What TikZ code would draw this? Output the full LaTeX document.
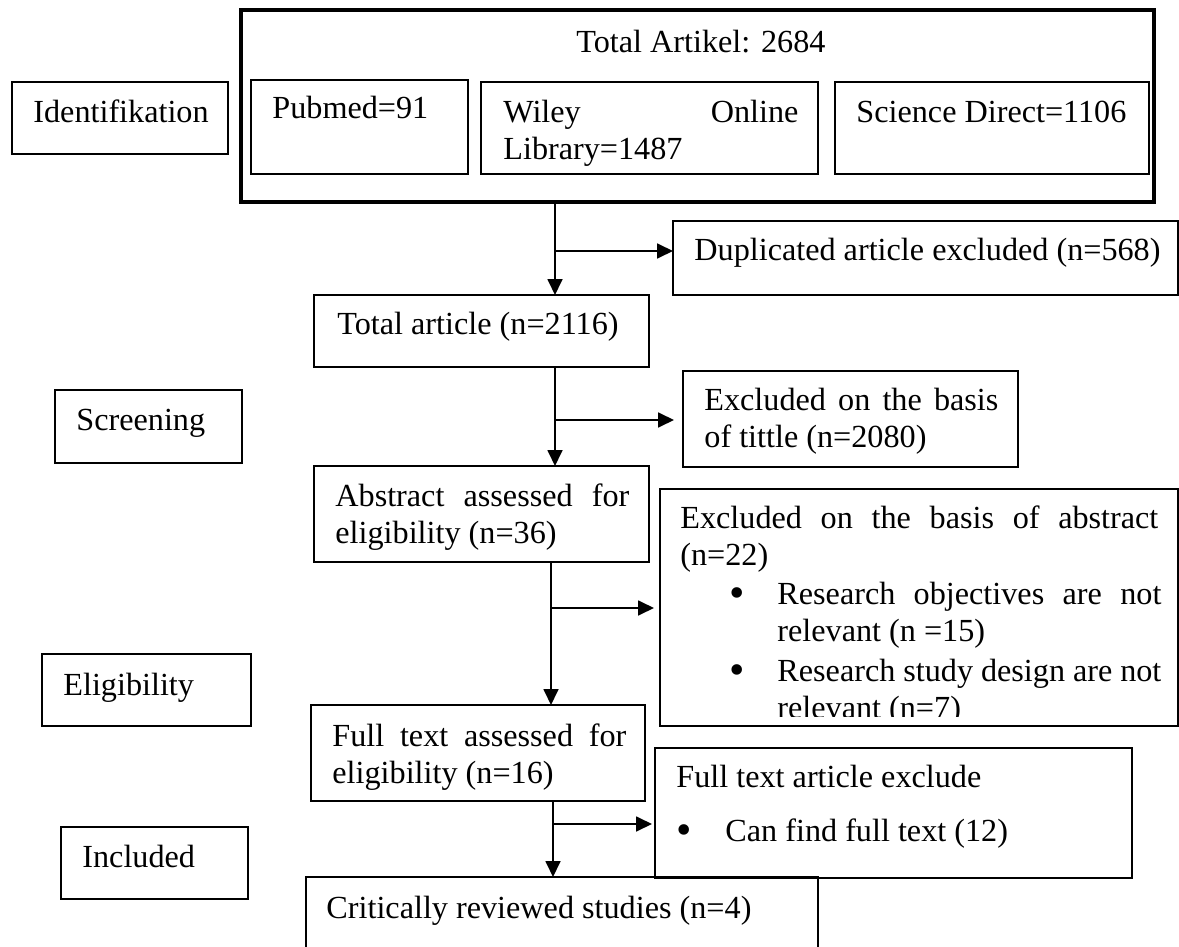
\documentclass[tikz,border=0pt]{standalone}
\usepackage{fontspec}
\setmainfont{Liberation Serif}
\usetikzlibrary{arrows.meta,fit}
\hyphenpenalty=10000
\exhyphenpenalty=10000
\tolerance=10000
\hbadness=10000
\begin{document}
\newcommand\fsz{\fontsize{16.1pt}{18.5pt}\selectfont}
\newcommand\bigbul{\raisebox{-1.6pt}{\fontsize{22pt}{22pt}\selectfont\textbullet}}
\begin{tikzpicture}[x=0.5pt,y=-0.5pt,
 box/.style={draw=black, line width=0.6pt, inner sep=0pt, outer sep=0pt},
 bigbox/.style={draw=black, line width=2pt, inner sep=0pt, outer sep=0pt},
 lbl/.style={anchor=base west, inner sep=0pt, font=\fsz},
 bul/.style={anchor=base, inner sep=0pt, font=\fsz},
 ptext/.style={anchor=north west, inner sep=0pt, font=\fsz, align=justify, text width=#1},
 conn/.style={line width=0.9pt},
 arr/.style={conn, -{Triangle[length=8pt,width=7.5pt]}}
]
\useasboundingbox (0,0) rectangle (1179,947);
\clip (0,0) rectangle (1179,947);

% stage labels
\node[box, fit={(12,82) (228,154)}] (ident) {};
\node[lbl] (identT) at (33,123) {Identifikation};
\node[box, fit={(55,390) (242,463)}] (scr) {};
\node[lbl] (scrT) at (76,430) {Screening};
\node[box, fit={(42,654) (251,726)}] (eli) {};
\node[lbl] (eliT) at (63,695) {Eligibility};
\node[box, fit={(61,827) (248,899)}] (inc) {};
\node[lbl] (incT) at (82,867) {Included};

% identification
\node[bigbox, fit={(241,10) (1154,202)}] (big) {};
\node[lbl] (bigT) at (576,53) {Total Artikel: 2684};
\node[box, fit={(251,80) (468,174)}] (pub) {};
\node[lbl] (pubT) at (272,119) {Pubmed=91};
\node[box, fit={(481,82) (818,174)}] (wil) {};
\node[ptext=147.5pt] (wilT) at (503,96.1) {\strut Wiley Online Library=1487};
\node[box, fit={(835,82) (1149,174)}] (sci) {};
\node[lbl] (sciT) at (856,123) {Science Direct=1106};

\node[box, fit={(673,221) (1178,295)}] (dup) {};
\node[lbl] (dupT) at (694,260) {Duplicated article excluded (n=568)};

% screening
\node[box, fit={(314,295) (649,367)}] (tot) {};
\node[lbl] (totT) at (337,334) {Total article (n=2116)};
\node[box, fit={(683,371) (1018,467)}] (tit) {};
\node[ptext=147pt] (titT) at (704,384.1) {\strut Excluded on the basis of tittle (n=2080)};
\node[box, fit={(314,466) (649,562)}] (abs) {};
\node[ptext=147pt] (absT) at (335,480.1) {\strut Abstract assessed for eligibility (n=36)};

% eligibility
\node[box, fit={(660,489) (1178,726)}] (exa) {};
\node[ptext=239pt] (exaT) at (680,502.1) {\strut Excluded on the basis of abstract (n=22)};
\node[bul] (exaB1) at (737,604) {\bigbul};
\node[ptext=192pt] (exaI1) at (777,578.1) {\strut Research objectives are not relevant (n =15)};
\node[bul] (exaB2) at (737,681) {\bigbul};
\begin{scope}
\clip (660,489) rectangle (1178,716);
\node[ptext=192pt] (exaI2) at (777,655.1) {\strut Research study design are not relevant (n=7)};
\end{scope}

\node[box, fit={(311,705) (645,801)}] (ful) {};
\node[ptext=147pt] (fulT) at (332,720.1) {\strut Full text assessed for eligibility (n=16)};
\node[box, fit={(655,748) (1132,878)}] (fte) {};
\node[lbl] (fteT) at (676,787) {Full text article exclude};
\node[bul] (fteB) at (684,841) {\bigbul};
\node[lbl] (fteI) at (725,841) {Can find full text (12)};

% included
\node[box, fit={(306,877) (818,990)}] (cri) {};
\node[lbl] (criT) at (326,918) {Critically reviewed studies (n=4)};

% connectors
\coordinate (x1) at (555,0);
\coordinate (x2) at (555,0);
\coordinate (x3) at (551,0);
\coordinate (x4) at (553,0);
\coordinate (j1) at (555,251);
\coordinate (j2) at (555,420);
\coordinate (j3) at (551,608);
\coordinate (j4) at (553,824);

\draw[arr] (big.south -| x1) -- (tot.north -| x1);
\draw[arr] (j1) -- (dup.west |- j1);
\draw[arr] (tot.south -| x2) -- (abs.north -| x2);
\draw[arr, shorten >=4.5pt] (j2) -- (tit.west |- j2);
\draw[arr] (abs.south -| x3) -- (ful.north -| x3);
\draw[arr, shorten >=3pt] (j3) -- (exa.west |- j3);
\draw[arr] (ful.south -| x4) -- (cri.north -| x4);
\draw[arr, shorten >=1.5pt] (j4) -- (fte.west |- j4);
\end{tikzpicture}
\end{document}
